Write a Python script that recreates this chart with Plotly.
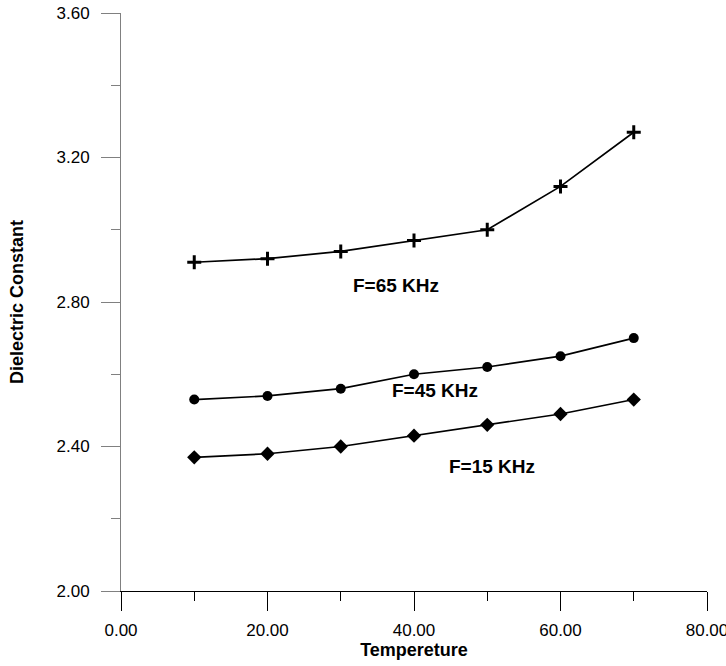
import plotly.graph_objects as go

temperature = [10, 20, 30, 40, 50, 60, 70]
f65 = [2.91, 2.92, 2.94, 2.97, 3.00, 3.12, 3.27]
f45 = [2.53, 2.54, 2.56, 2.60, 2.62, 2.65, 2.70]
f15 = [2.37, 2.38, 2.40, 2.43, 2.46, 2.49, 2.53]
series_labels = ["F=65 KHz", "F=45 KHz", "F=15 KHz"]
label_pos = [(37.6, 2.845), (42.8, 2.556), (50.6, 2.345)]

FONT = "Liberation Sans, Arial, sans-serif"

fig = go.Figure()
for ys, sym, sz in [(f65, "cross-thin", 10), (f45, "circle", 10), (f15, "diamond", 11)]:
    marker = dict(symbol=sym, size=sz, color="black")
    if sym == "cross-thin":
        marker["line"] = dict(width=3, color="black")
    fig.add_trace(go.Scatter(x=temperature, y=ys, mode="lines+markers",
                             line=dict(color="black", width=1.7),
                             marker=marker, showlegend=False))

for txt, (x, y) in zip(series_labels, label_pos):
    fig.add_annotation(x=x, y=y, text="<b>%s</b>" % txt, showarrow=False,
                       font=dict(family=FONT, size=19, color="black"))

fig.update_layout(
    width=726, height=666,
    margin=dict(l=121, r=19, t=13, b=75),
    plot_bgcolor="white", paper_bgcolor="white",
    font=dict(family=FONT, color="black", size=17),
)
fig.update_xaxes(range=[0, 80], dtick=20, tick0=0, tickformat=".2f",
                 automargin=False, ticklabeloverflow="allow",
                 showgrid=False, zeroline=False, showline=True, linecolor="black",
                 linewidth=1, ticks="outside", ticklen=19, tickcolor="black",
                 ticklabelstandoff=5,
                 minor=dict(dtick=10, ticks="outside", ticklen=9, tickcolor="black", showgrid=False),
                 title=dict(text="<b>Tempereture</b>", font=dict(size=18), standoff=2))
fig.update_yaxes(range=[2.0, 3.6], dtick=0.4, tick0=2.0, tickformat=".2f",
                 automargin=False, ticklabeloverflow="allow",
                 showgrid=False, zeroline=False, showline=True, linecolor="gray",
                 linewidth=1, ticks="outside", ticklen=19, tickcolor="gray",
                 ticklabelstandoff=8,
                 minor=dict(dtick=0.2, ticks="outside", ticklen=9, tickcolor="gray", showgrid=False),
                 title=dict(text="<b>Dielectric Constant</b>", font=dict(size=18), standoff=28))

# remove the browser's default 8px body margin so the figure fills the window
fig.write_html("out.html", config={"displayModeBar": False},
               post_script="document.body.style.margin='0';")
